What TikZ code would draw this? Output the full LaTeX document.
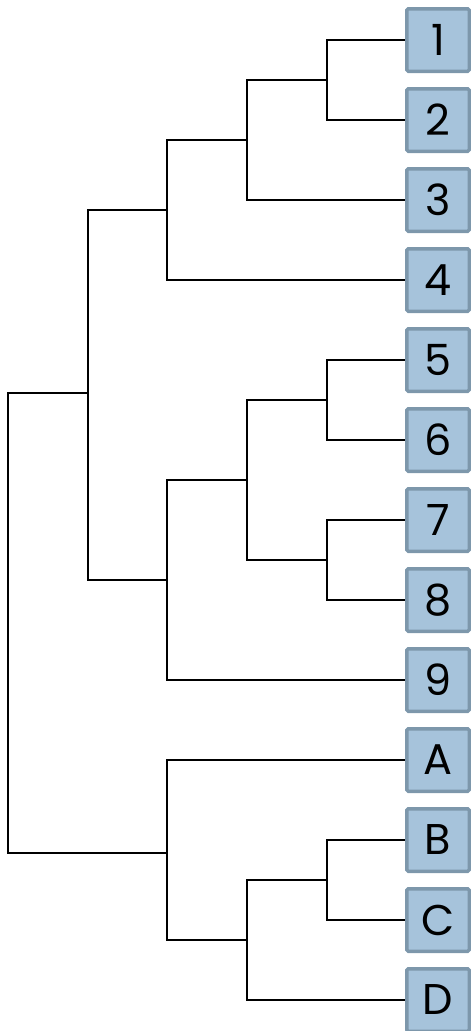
\documentclass[tikz,border=0pt]{standalone}
\usepackage{fontspec}
\setmainfont{Poppins}
\definecolor{boxfill}{HTML}{A6C3DB}
\definecolor{boxline}{HTML}{7D97AB}
\begin{document}
\begin{tikzpicture}[x=1pt,y=-1pt,
  leaf/.style={draw=boxline,fill=boxfill,line width=3.5pt,rounded corners=1.5pt,
    minimum width=62.5pt,minimum height=62.5pt,inner sep=0pt,font=\fontsize{43}{43}\selectfont,anchor=center},
  branch/.style={line width=2pt,black}]
\useasboundingbox (0,0) rectangle (471,1031);
\foreach \t/\n [count=\i] in {1/n1,2/n2,3/n3,4/n4,5/n5,6/n6,7/n7,8/n8,9/n9,A/nA,B/nB,C/nC,D/nD}
  \node[leaf] (\n) at (438,{40+80*(\i-1)}) {\t};
\coordinate (j12) at (327,80);
\coordinate (j123) at (247,140);
\coordinate (j1234) at (167,210);
\coordinate (j56) at (327,400);
\coordinate (j78) at (327,560);
\coordinate (j5678) at (247,480);
\coordinate (j59) at (167,580);
\coordinate (j19) at (88,393);
\coordinate (jBC) at (327,880);
\coordinate (jBD) at (247,940);
\coordinate (jAD) at (167,853);
\coordinate (root) at (8,620);
\begin{scope}[branch]
\draw (j12) |- (n1.west);
\draw (j12) |- (n2.west);
\draw (j123) |- (j12);
\draw (j123) |- (n3.west);
\draw (j1234) |- (j123);
\draw (j1234) |- (n4.west);
\draw (j56) |- (n5.west);
\draw (j56) |- (n6.west);
\draw (j78) |- (n7.west);
\draw (j78) |- (n8.west);
\draw (j5678) |- (j56);
\draw (j5678) |- (j78);
\draw (j59) |- (j5678);
\draw (j59) |- (n9.west);
\draw (j19) |- (j1234);
\draw (j19) |- (j59);
\draw (jBC) |- (nB.west);
\draw (jBC) |- (nC.west);
\draw (jBD) |- (jBC);
\draw (jBD) |- (nD.west);
\draw (jAD) |- (nA.west);
\draw (jAD) |- (jBD);
\draw (root) |- (j19);
\draw (root) |- (jAD);
\end{scope}
\end{tikzpicture}
\end{document}
